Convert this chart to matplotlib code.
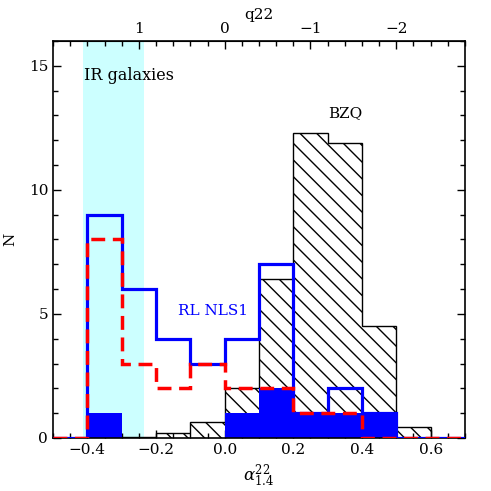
import numpy as np
import matplotlib
matplotlib.use('Agg')
import matplotlib.pyplot as plt
from matplotlib.ticker import MultipleLocator, FixedLocator


# bin edges in alpha_1.4^22
edges = [-0.5, -0.4, -0.3, -0.2, -0.1, 0.0, 0.1, 0.2, 0.3, 0.4, 0.5, 0.6, 0.7]

# RL NLS1 (blue solid), red dashed subsample, blue filled subsample
nls1_all = [0, 9, 6, 4, 3, 4, 7, 1, 2, 1, 0, 0]
nls1_red = [0, 8, 3, 2, 3, 2, 2, 1, 1, 0, 0, 0]
nls1_fill = [0, 1, 0, 0, 0, 1, 2, 1, 1, 1, 0, 0]
# BZQ (hatched, rescaled)
bzq = [0, 0, 0.04, 0.2, 0.66, 2.0, 6.4, 12.3, 11.87, 4.5, 0.45, 0]

# IR galaxies band in alpha
ir_band = [-0.412, -0.236]

plt.rcParams['font.family'] = ['DejaVu Serif']
plt.rcParams['mathtext.fontset'] = 'dejavuserif'
plt.rcParams['hatch.linewidth'] = 1.0


def q22(a):
    return -4.0 * np.asarray(a)


def alpha(q):
    return -np.asarray(q) / 4.0


def Main():
    fig = plt.figure(figsize=(4.91, 4.91), dpi=100)
    ax = fig.add_axes([0.108, 0.108, 0.839, 0.8085])

    ax.axvspan(ir_band[0], ir_band[1], color='#ccffff', lw=0, zorder=0)

    ax.stairs(bzq, edges, fill=True, facecolor='none', edgecolor='black',
              hatch='\\\\', linewidth=1.0, zorder=1)
    ax.stairs(nls1_fill, edges, fill=True, color='blue', zorder=2)
    ax.stairs(nls1_all, edges, color='blue', linewidth=2.3, zorder=3)
    ax.stairs(nls1_red, edges, color='red', linewidth=2.5,
              linestyle=(0, (4, 2.2)), zorder=4)

    ax.set_xlim(-0.5, 0.7)
    ax.set_ylim(0, 16)

    ax.xaxis.set_major_locator(MultipleLocator(0.2))
    ax.xaxis.set_minor_locator(MultipleLocator(0.05))
    ax.yaxis.set_major_locator(MultipleLocator(5))
    ax.yaxis.set_minor_locator(MultipleLocator(1))
    ax.tick_params(which='both', direction='in', top=False, right=True,
                   labelsize=11, width=1)
    ax.tick_params(which='major', length=6)
    ax.tick_params(which='minor', length=3.5)
    for s in ax.spines.values():
        s.set_linewidth(1.2)

    sec = ax.secondary_xaxis('top', functions=(q22, alpha))
    sec.xaxis.set_major_locator(FixedLocator([1, 0, -1, -2]))
    sec.xaxis.set_minor_locator(MultipleLocator(0.2))
    sec.tick_params(which='both', direction='in', labelsize=11, width=1)
    sec.tick_params(which='major', length=6)
    sec.tick_params(which='minor', length=3.5)
    sec.set_xlabel('q22', fontsize=11, labelpad=2)

    ax.set_xlabel(r'$\alpha^{22}_{1.4}$', fontsize=12, labelpad=4)
    ax.set_ylabel('N', fontsize=11, labelpad=8)

    ax.text(-0.41, 14.6, 'IR galaxies', fontsize=11.5, va='center', ha='left')
    ax.text(0.35, 13.1, 'BZQ', fontsize=11, va='center', ha='center')
    ax.text(-0.035, 5.1, 'RL NLS1', fontsize=11, va='center', ha='center',
            color='blue')

    fig.savefig('out.png', dpi=100)
    plt.close(fig)


if __name__ == '__main__':
    Main()
